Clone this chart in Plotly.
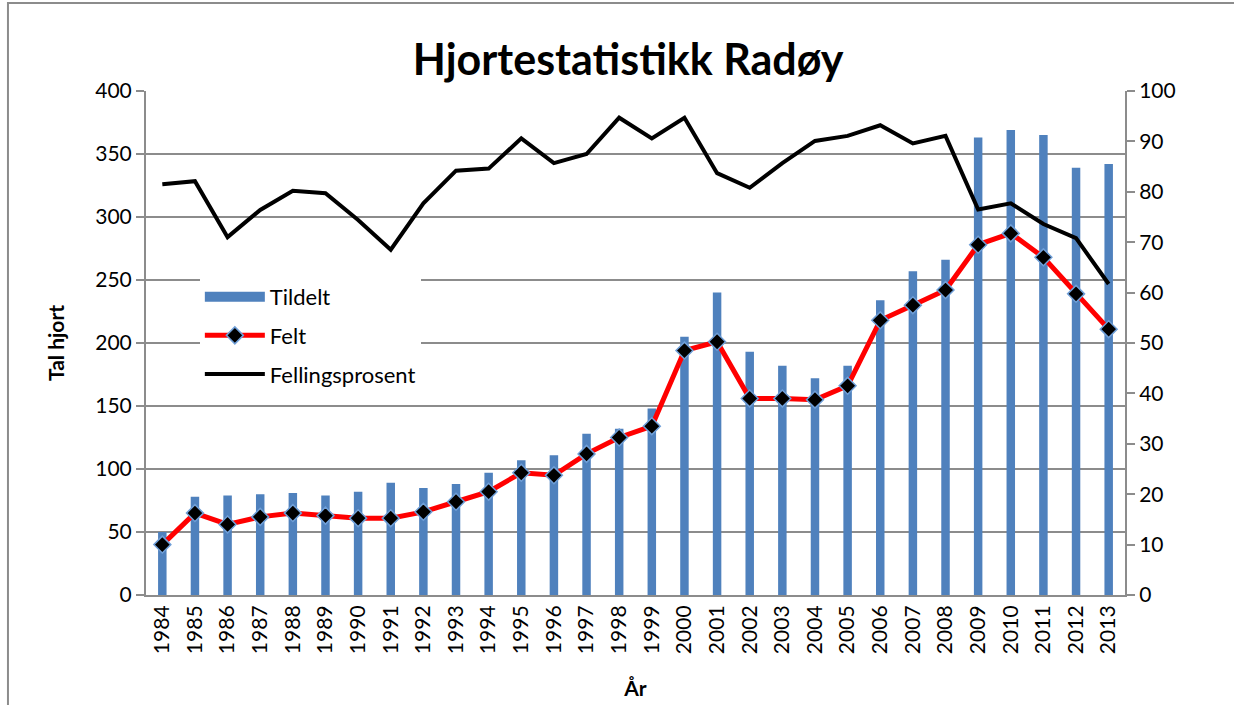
import plotly.graph_objects as go

years = [str(y) for y in range(1984, 2014)]
tildelt = [50, 78, 79, 80, 81, 79, 82, 89, 85, 88, 97, 107, 111, 128, 132, 148,
           205, 240, 193, 182, 172, 182, 234, 257, 266, 363, 369, 365, 339, 342]
felt = [40, 65, 56, 62, 65, 63, 61, 61, 66, 74, 82, 97, 95, 112, 125, 134,
        194, 201, 156, 156, 155, 166, 218, 230, 242, 278, 287, 268, 239, 211]
fellingsprosent = [81.5, 82.1, 71.0, 76.4, 80.2, 79.7, 74.4, 68.5, 77.7, 84.2, 84.6, 90.6,
                   85.7, 87.5, 94.7, 90.6, 94.7, 83.7, 80.8, 85.7, 90.1, 91.1, 93.2, 89.6,
                   91.1, 76.5, 77.7, 73.6, 70.8, 61.7]

FONT = "Lato"
GRID = "#8c8c8c"
BLUE = "#4F81BD"

fig = go.Figure()
fig.add_trace(go.Bar(x=years, y=tildelt, name="Tildelt", marker=dict(color=BLUE, line=dict(width=0)),
                     width=0.26, showlegend=False))
# legend-only entry for the bars (wide rectangle swatch)
fig.add_trace(go.Scatter(x=[None], y=[None], name="Tildelt", mode="lines",
                         line=dict(color=BLUE, width=14), legendgroup="a"))
fig.add_trace(go.Scatter(x=years, y=felt, name="Felt", mode="lines+markers", legendgroup="b",
                         line=dict(color="#FF0000", width=5),
                         marker=dict(symbol="diamond", size=13, color="black",
                                     line=dict(color="#6F9FD8", width=1.5))))
fig.add_trace(go.Scatter(x=years, y=fellingsprosent, name="Fellingsprosent", mode="lines",
                         legendgroup="c", line=dict(color="black", width=4), yaxis="y2"))

fig.update_layout(
    width=1234, height=705,
    margin=dict(l=146, r=109, t=91, b=110),
    paper_bgcolor="white", plot_bgcolor="white",
    font=dict(family=FONT, size=21, color="black"),
    title=dict(text="<b>Hjortestatistikk Radøy</b>", x=0.509, xanchor="center", y=0.915, yanchor="middle",
               font=dict(family=FONT, size=43, color="black")),
    showlegend=True,
    legend=dict(x=0.055, y=0.633, xanchor="left", yanchor="top", bgcolor="white",
                font=dict(family=FONT, size=22), tracegroupgap=7, itemwidth=60),
    xaxis=dict(type="category", range=[-0.5, 29.5], tickangle=-90, showgrid=False,
               showline=True, linecolor=GRID, linewidth=2, ticks="", automargin=False,
               tickfont=dict(size=21),
               title=dict(text="<b>År</b>", font=dict(size=21), standoff=28)),
    yaxis=dict(range=[0, 400], dtick=50, showgrid=True, gridcolor=GRID, gridwidth=2,
               showline=True, linecolor=GRID, linewidth=2, ticks="outside", ticklen=8,
               automargin=False,
               tickcolor=GRID, tickwidth=2, tickfont=dict(size=21), zeroline=False,
               title=dict(text="<b>Tal hjort</b>", font=dict(size=21), standoff=25)),
    yaxis2=dict(range=[0, 100], dtick=10, overlaying="y", side="right", showgrid=False,
                showline=True, linecolor=GRID, linewidth=2, ticks="outside", ticklen=8,
                automargin=False,
                tickcolor=GRID, tickwidth=2, tickfont=dict(size=21), zeroline=False),
    shapes=[dict(type="rect", xref="paper", yref="paper", x0=-0.141, x1=1.1175, y0=-0.228, y1=1.1746,
                 line=dict(color="#8c8c8c", width=2), fillcolor="rgba(0,0,0,0)", layer="below")],
)

fig.write_html("out.html", config={"displayModeBar": False},
               post_script="document.body.style.margin='0px';document.body.style.overflow='hidden';")
